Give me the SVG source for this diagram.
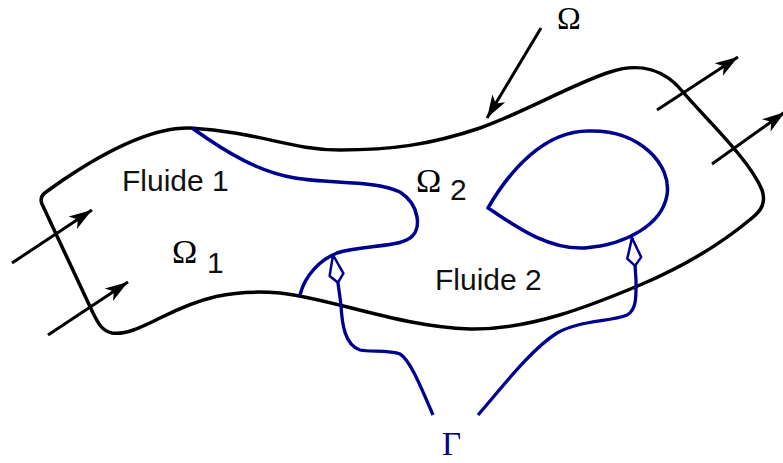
<svg xmlns="http://www.w3.org/2000/svg" width="783" height="463" viewBox="0 0 783 463">
<style>
.bd{fill:none;stroke:#000;stroke-width:3.5;stroke-linejoin:round}
.ar{fill:none;stroke:#000;stroke-width:3;marker-end:url(#ah)}
.bl{fill:none;stroke:#000090;stroke-width:3.5;stroke-linejoin:round}
.bla{fill:none;stroke:#000090;stroke-width:3.3;marker-end:url(#kite)}
.sans{font-family:"Liberation Sans",Arial,sans-serif;font-size:30px;fill:#111}
.ser{font-family:"Liberation Serif","Times New Roman",serif;font-size:34px;fill:#000}
</style>
<defs>
<marker id="ah" viewBox="-24 -8 25 16" refX="0" refY="0" markerWidth="25" markerHeight="16" markerUnits="userSpaceOnUse" orient="auto">
<path d="M0,0 L-23,-7.5 L-17,0 L-23,7.5 Z" fill="#000"/>
</marker>
<marker id="kite" viewBox="-31 -9 33 18" refX="0" refY="0" markerWidth="33" markerHeight="18" markerUnits="userSpaceOnUse" orient="auto">
<path d="M0,0 L-20,-7 L-28,0 L-20,7 Z" fill="#fff" stroke="#000090" stroke-width="2.5" stroke-linejoin="round"/>
</marker>
</defs>
<g id="domain">
<path class="bd" d="M93,313 L42,204 Q39,197 46,192 L63,180 C100,155 150,127 190,128 C260,132 290,150 340,150 C390,150 430,145 480,128 C530,110 570,85 610,72 C640,62 665,70 683,92 C705,118 750,160 762,190 C766,202 762,210 752,218 C720,245 680,268 640,285 C590,306 530,330 470,329 C400,327 330,298 280,293 C230,289 200,298 160,318 C140,328 125,335 112,333 C102,331 98,323 93,313 Z"/>
</g>
<g id="interface1">
<path class="bl" d="M192,128 C230,155 260,172 295,178 C330,184 375,180 400,192 C420,205 422,230 410,238 C395,248 360,245 337,253 C320,260 305,275 300,295"/>
</g>
<g id="bubble">
<path class="bl" d="M488,208 C510,170 545,130 590,131 C640,130 672,165 667,195 C662,225 625,245 585,248 C545,250 510,222 488,208 Z"/>
</g>
<g id="connectors">
<path class="ar" d="M12,263 L92,210"/>
<path class="ar" d="M48,335 L128,282"/>
<path class="ar" d="M541,28 L487,118"/>
<path class="ar" d="M657,110 L738,57"/>
<path class="ar" d="M712,164 L785,112"/>
<path class="bla" d="M433,415 C420,385 410,360 400,354 C390,350 370,352 360,350 C345,345 342,325 341,305 L338,283 L333,255"/>
<path class="bla" d="M478,415 C500,390 530,350 557,333 C580,320 610,322 627,315 C637,310 636,295 636,280 L635,265 L632,238"/>
</g>
<g id="labels">
<text class="sans" x="122" y="191">Fluide 1</text>
<text class="sans" x="435" y="290">Fluide 2</text>
<text class="ser" x="172" y="263">Ω</text>
<text class="sans" x="207" y="273">1</text>
<text class="ser" x="416" y="192">Ω</text>
<text class="sans" x="450" y="200">2</text>
<text class="ser" x="557" y="29" style="font-size:32px">Ω</text>
<text class="ser" x="442" y="455" style="font-size:33px;fill:#000090">Γ</text>
</g>
</svg>
